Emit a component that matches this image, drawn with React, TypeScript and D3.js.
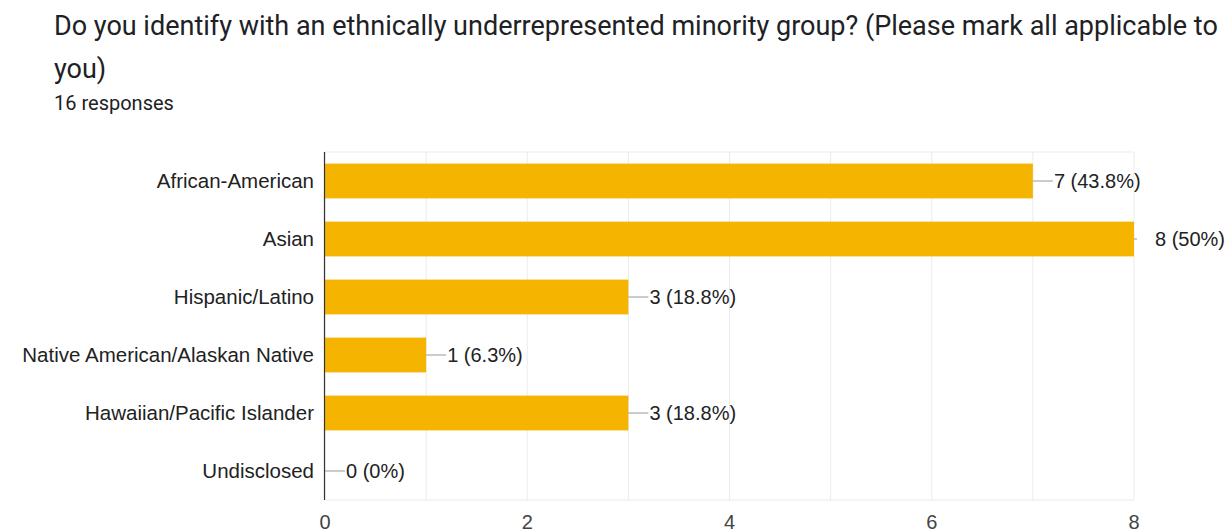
import React from "react";
import * as d3 from "d3";

const categories = [
  "African-American",
  "Asian",
  "Hispanic/Latino",
  "Native American/Alaskan Native",
  "Hawaiian/Pacific Islander",
  "Undisclosed",
];
const counts = [7, 8, 3, 1, 3, 0];
const labels = ["7 (43.8%)", "8 (50%)", "3 (18.8%)", "1 (6.3%)", "3 (18.8%)", "0 (0%)"];
const xTicks = [0, 2, 4, 6, 8];
const gridTicks = [0, 1, 2, 3, 4, 5, 6, 7, 8];

export default function App() {
  const W = 1225, H = 531;
  const left = 325, right = 1134, top = 152, bottom = 500;
  const x = d3.scaleLinear().domain([0, 8]).range([left, right]);
  const y = d3.scaleBand().domain(categories).range([top, bottom]).paddingInner(0.4).paddingOuter(0.2);
  const titleFont = "Roboto, 'Noto Sans', sans-serif";
  const font = "'Liberation Sans', Arial, sans-serif";
  const maxV = d3.max(counts) as number;
  return (
    <svg width={W} height={H} style={{ position: "absolute", left: 0, top: 0 }} fontFamily={font}>
      <rect width={W} height={H} fill="#fff" />
      <text x={54} y={35} fontSize={27} fill="#202124" fontFamily={titleFont}>
        Do you identify with an ethnically underrepresented minority group? (Please mark all applicable to
      </text>
      <text x={54} y={78} fontSize={27} fill="#202124" fontFamily={titleFont}>you)</text>
      <text x={54} y={110} fontSize={20} fill="#202124" fontFamily={titleFont}>16 responses</text>
      {gridTicks.map((t) => (
        <line key={t} x1={x(t)} x2={x(t)} y1={top} y2={bottom} stroke="#ebebeb" strokeWidth={1} />
      ))}
      <line x1={left} x2={right} y1={top} y2={top} stroke="#ebebeb" />
      <line x1={left} x2={right} y1={bottom} y2={bottom} stroke="#ebebeb" />
      {categories.map((c, i) => {
        const by = y(c) as number;
        const bh = y.bandwidth();
        const cy = by + bh / 2;
        const end = x(counts[i]);
        const lineLen = counts[i] === maxV ? 3 : 20;
        return (
          <g key={c}>
            {counts[i] > 0 && <rect x={x(0)} y={by} width={end - x(0)} height={bh} fill="#f4b400" />}
            <line x1={end} x2={end + lineLen} y1={cy} y2={cy} stroke="#999" strokeWidth={1} />
            <text x={end + 21} y={cy} dy="0.35em" fontSize={20} fill="#222">{labels[i]}</text>
            <text x={314} y={cy} dy="0.35em" textAnchor="end" fontSize={20.5} fill="#222">{c}</text>
          </g>
        );
      })}
      <line x1={left - 0.5} x2={left - 0.5} y1={top} y2={bottom} stroke="#333" strokeWidth={1.2} />
      {xTicks.map((t) => (
        <text key={t} x={x(t)} y={522} dy="0.35em" textAnchor="middle" fontSize={20} fill="#444">{t}</text>
      ))}
    </svg>
  );
}
